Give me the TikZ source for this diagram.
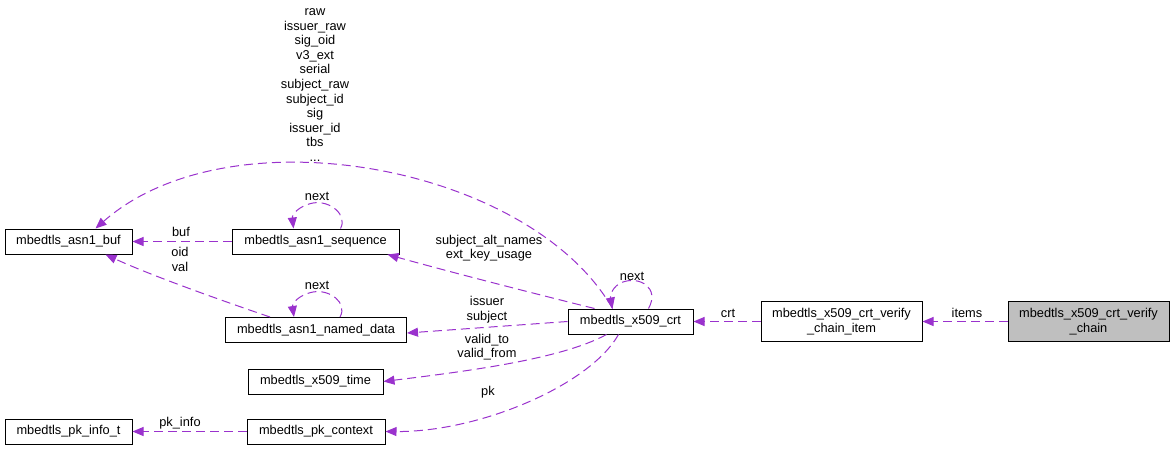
\documentclass[tikz,border=0pt]{standalone}
\usepackage{fontspec}
\setmainfont{Liberation Sans}
\usetikzlibrary{arrows.meta}
\definecolor{edgec}{HTML}{9A32CD}
\tikzset{
  box/.style={draw=black, line width=1pt, minimum height=25pt, inner sep=0pt, font=\fontsize{12.8}{14.6}\selectfont, align=center},
  box2/.style={box, minimum height=40pt},
  rel/.style={draw=edgec, line width=1pt, dash pattern=on 9pt off 5pt, -{Triangle[length=11pt,width=9pt]}, shorten >=0pt},
  lbl/.style={font=\fontsize{12.8}{14.6}\selectfont, align=center, inner sep=0pt},
}
\begin{document}
\begin{tikzpicture}[x=1pt,y=-1pt]
\useasboundingbox (0,0) rectangle (1175,451);
% nodes
\node[box, minimum width=127pt] (buf) at (68.5,241.5) {mbedtls\_asn1\_buf};
\node[box, minimum width=167pt] (seq) at (315.5,241.5) {mbedtls\_asn1\_sequence};
\node[box, minimum width=181pt] (named) at (316,330) {mbedtls\_asn1\_named\_data};
\node[box, minimum width=135pt] (time) at (315.5,381.5) {mbedtls\_x509\_time};
\node[box, minimum width=127pt] (pkinfo) at (68.5,431.5) {mbedtls\_pk\_info\_t};
\node[box, minimum width=138pt] (pkctx) at (316,431.5) {mbedtls\_pk\_context};
\node[box, minimum width=125pt] (crt) at (630.5,321.5) {mbedtls\_x509\_crt};
\node[box2, minimum width=161pt] (item) at (841.5,321.5) {mbedtls\_x509\_crt\_verify\\\_chain\_item};
\node[box2, minimum width=161pt, fill={rgb,255:red,191;green,191;blue,191}] (chain) at (1088.5,321.5) {mbedtls\_x509\_crt\_verify\\\_chain};
% edges
\draw[rel] (chain.west) -- (item.east);
\draw[rel] (item.west) -- (crt.east);
\draw[rel] ([xshift=-18pt]crt.north) .. controls (530,165) and (230,110) .. ([xshift=27pt]buf.north);
\draw[rel] ([xshift=18pt]crt.north) .. controls (660,288) and (640,276) .. (623,282) .. controls (612,286) and (610,296) .. ([xshift=-18pt]crt.north);
\draw[rel] ([xshift=25pt]seq.north) .. controls (348,215) and (330,200) .. (313,203) .. controls (298,206) and (292,215) .. ([xshift=-22pt]seq.north);
\draw[rel] ([xshift=24pt]named.north) .. controls (348,303) and (330,289) .. (313,292) .. controls (298,295) and (292,304) .. ([xshift=-22pt]named.north);
\draw[rel] (seq.west) -- (buf.east);
\draw[rel] ([xshift=-46pt]named.north) .. controls (220,300) and (150,275) .. ([xshift=37pt]buf.south);
\draw[rel] ([xshift=-36pt]crt.north) .. controls (540,295) and (450,272) .. ([xshift=-12pt]seq.south east);
\draw[rel] (crt.west) -- ([yshift=-3pt]named.east);
\draw[rel] ([xshift=-24pt]crt.south) .. controls (560,360) and (460,372) .. (time.east);
\draw[rel] ([xshift=-12pt]crt.south) .. controls (590,385) and (480,432) .. (pkctx.east);
\draw[rel] (pkctx.west) -- (pkinfo.east);
% labels
\node[lbl] (l1) at (315,85) {raw\\issuer\_raw\\sig\_oid\\v3\_ext\\serial\\subject\_raw\\subject\_id\\sig\\issuer\_id\\tbs\\...};
\node[lbl] (l2) at (632,276) {next};
\node[lbl] (l3) at (317,196) {next};
\node[lbl] (l4) at (317,285) {next};
\node[lbl] (l5) at (181,232) {buf};
\node[lbl] (l6) at (180,259.5) {oid\\val};
\node[lbl] (l7) at (489,248) {subject\_alt\_names\\ext\_key\_usage};
\node[lbl] (l8) at (487,309.5) {issuer\\subject};
\node[lbl] (l9) at (487,347) {valid\_to\\valid\_from};
\node[lbl] (l10) at (488,392) {pk};
\node[lbl] (l11) at (180,423) {pk\_info};
\node[lbl] (l12) at (728,313) {crt};
\node[lbl] (l13) at (967,313) {items};
\end{tikzpicture}
\end{document}
